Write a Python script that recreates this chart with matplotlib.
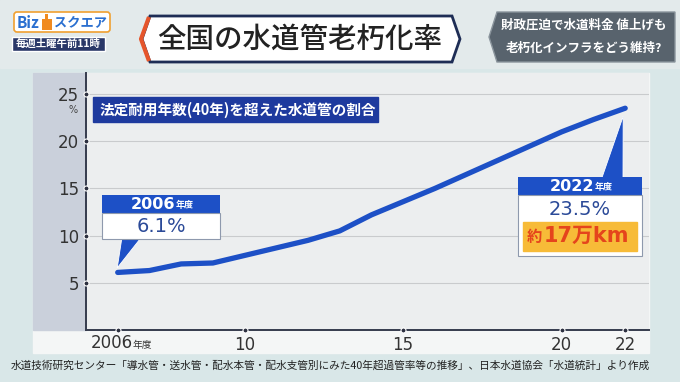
"""
全国の水道管老朽化率 (法定耐用年数40年を超えた水道管の割合)
"""

import matplotlib
matplotlib.use('Agg')
import matplotlib.pyplot as plt
from matplotlib.patches import Rectangle, Polygon, FancyBboxPatch

plt.rcParams['font.family'] = ['Noto Sans CJK JP', 'DejaVu Sans']
NUM_FONT = ['DejaVu Sans', 'Noto Sans CJK JP']

# データ
years = [2006, 2007, 2008, 2009, 2010, 2011, 2012, 2013, 2014,
         2015, 2016, 2017, 2018, 2019, 2020, 2021, 2022]
rate = [6.1, 6.3, 7.0, 7.1, 7.9, 8.7, 9.5, 10.5, 12.2,
        13.6, 15.0, 16.5, 18.0, 19.5, 21.0, 22.3, 23.5]

xticks = [2006, 2010, 2015, 2020, 2022]
xtick_labels = ['2006', '10', '15', '20', '22']
yticks = [5, 10, 15, 20, 25]

title = '全国の水道管老朽化率'
subtitle = '法定耐用年数(40年)を超えた水道管の割合'
side_lines = ['財政圧迫で水道料金 値上げも', '老朽化インフラをどう維持?']
source = ('水道技術研究センター「導水管・送水管・配水本管・配水支管別にみた'
          '40年超過管率等の推移」、日本水道協会「水道統計」より作成')

W, H = 680, 382
BLUE = '#1d50c6'
NAVY = '#1e3a9e'
TXT_BLUE = '#2b4a98'

fig = plt.figure(figsize=(6.8, 3.82), dpi=100)
fig.patch.set_facecolor('#d9e7e8')

# 背景レイヤー (ピクセル座標)
back = fig.add_axes([0, 0, 1, 1])
back.set_xlim(0, W)
back.set_ylim(H, 0)
back.axis('off')
back.add_patch(Rectangle((0, 0), W, 68, color='#e3eaeb'))
back.add_patch(Rectangle((33, 73.3), 616.3, 280, color='#f4f6f6'))
back.add_patch(Rectangle((33, 73.3), 53, 256.7, color='#cad0db'))

# メインのグラフ
ax = fig.add_axes([86 / W, 1 - 330 / H, (649.3 - 86) / W, (330 - 73.3) / H])
ax.set_facecolor('#eceeef')
ax.set_xlim(2005.0, 2022.76)
ax.set_ylim(0, 27.2)
for s in ['top', 'right']:
    ax.spines[s].set_visible(False)
for s in ['left', 'bottom']:
    ax.spines[s].set_color('#353b4d')
    ax.spines[s].set_linewidth(1.4)

ax.set_yticks(yticks)
ax.set_yticklabels([str(v) for v in yticks], fontsize=12, color='#333333',
                   family=NUM_FONT)
ax.set_xticks(xticks)
ax.set_xticklabels([''] + xtick_labels[1:], fontsize=12, color='#333333',
                   family=NUM_FONT)
ax.tick_params(axis='y', length=0, pad=5)
ax.tick_params(axis='x', length=0, pad=4)
ax.grid(True, axis='y', color='#c9cbcd', linewidth=0.8)
ax.set_axisbelow(True)

x0 = ax.get_xlim()[0]
ax.plot(xticks, [0] * len(xticks), 'o', ms=3.6, color='#2c3040', mec='white',
        mew=0.8, clip_on=False, zorder=5)
ax.plot([x0] * len(yticks), yticks, 'o', ms=3.6, color='#2c3040', mec='white',
        mew=0.8, clip_on=False, zorder=5)

ax.plot(years, rate, color=BLUE, linewidth=3.8, solid_capstyle='round',
        solid_joinstyle='round', zorder=4)

# 前面レイヤー (ピクセル座標)
front = fig.add_axes([0, 0, 1, 1])
front.set_xlim(0, W)
front.set_ylim(H, 0)
front.axis('off')
front.patch.set_alpha(0)


def to_px(x, y):
    dx, dy = ax.transData.transform((x, y))
    return dx, H - dy


# x軸の "2006年度"
tx, _ = to_px(xticks[0], 0)
front.text(tx + 15, 343, xtick_labels[0], fontsize=12, color='#333333',
           ha='right', va='center', family=NUM_FONT)
front.text(tx + 15, 345, '年度', fontsize=7, color='#333333', ha='left', va='center')
front.text(73, 110, '%', fontsize=7, color='#444444', ha='center', va='center',
           family=NUM_FONT)

# グラフ内タイトル
front.add_patch(Rectangle((93, 97), 285, 25, color=NAVY))
front.text(100, 109.5, subtitle, fontsize=10.5, color='white', fontweight='bold',
           ha='left', va='center')

# 2006年度 吹き出し
px, py = to_px(years[0], rate[0])
front.add_patch(Polygon([(121.7, 239), (140, 239), (px - 0.5, py - 4.5)],
                        closed=True, fc=BLUE, ec='white', lw=0.6))
front.add_patch(Rectangle((101.7, 195), 118.3, 18.3, fc=BLUE, ec='none'))
front.add_patch(Rectangle((101.7, 213.3), 118.3, 26, fc='white', ec='#8e99ad', lw=0.8))
front.text(175, 204.5, str(years[0]), fontsize=11.5, color='white',
           fontweight='bold', ha='right', va='center', family=NUM_FONT)
front.text(176, 205.5, '年度', fontsize=6.5, color='white', fontweight='bold',
           ha='left', va='center')
front.text(161, 227, f'{rate[0]}%', fontsize=14, color=TXT_BLUE,
           ha='center', va='center', family=NUM_FONT)

# 2022年度 吹き出し
px, py = to_px(years[-1], rate[-1])
front.add_patch(Polygon([(602, 177.5), (623, 177.5), (px - 2, py + 8)],
                        closed=True, fc=BLUE, ec='white', lw=0.6))
front.add_patch(Rectangle((518.3, 177.3), 123.4, 17.7, fc=BLUE, ec='none'))
front.add_patch(Rectangle((518.3, 195), 123.4, 61, fc='white', ec='#8e99ad', lw=0.8))
front.text(594, 186.5, str(years[-1]), fontsize=11.5, color='white',
           fontweight='bold', ha='right', va='center', family=NUM_FONT)
front.text(595, 187.5, '年度', fontsize=6.5, color='white', fontweight='bold',
           ha='left', va='center')
front.text(580, 209.5, f'{rate[-1]}%', fontsize=14, color=TXT_BLUE,
           ha='center', va='center', family=NUM_FONT)
front.add_patch(Rectangle((523, 222), 114, 29, color='#f7bb38'))
front.text(542, 237, '約', fontsize=11, color='#e5441c', fontweight='bold',
           ha='right', va='center')
front.text(544, 236, '17万km', fontsize=15, color='#e5441c', fontweight='bold',
           ha='left', va='center', family=NUM_FONT)

# 出典
front.text(330, 365, source, fontsize=7.7, color='#222222', ha='center', va='center')

# ヘッダー: ロゴ
front.add_patch(FancyBboxPatch((14, 12), 96, 20, boxstyle='round,pad=0,rounding_size=3',
                               fc='white', ec='#f0a030', lw=1.2))
front.text(17, 22.5, 'Biz', fontsize=11, color='#2a6fd0', fontweight='bold',
           ha='left', va='center')
front.add_patch(Polygon([(42, 30), (42, 19), (45, 19), (45, 14), (48, 14), (48, 19),
                         (52, 19), (52, 30)], closed=True, fc='#f08a20', ec='none'))
front.text(54, 22.5, 'スクエア', fontsize=9.5, color='#2a6fd0', fontweight='bold',
           ha='left', va='center')
front.add_patch(Rectangle((12, 37), 93, 14, fc='#2a3868', ec='white', lw=1))
front.text(58.5, 44, '毎週土曜午前11時', fontsize=7.5, color='white',
           fontweight='bold', ha='center', va='center')

# ヘッダー: タイトル
front.add_patch(Polygon([(150, 16), (452, 16), (460, 39), (452, 62), (150, 62), (142, 39)],
                        closed=True, fc='white', ec='#1e2d55', lw=2))
front.plot([149, 141, 149], [17, 39, 61], color='#e5552b', lw=3, solid_capstyle='butt')
front.text(300, 39.5, title, fontsize=20.5, color='#222222', fontweight='medium',
           ha='center', va='center')

# ヘッダー: 右のボックス
front.add_patch(Polygon([(497, 12), (675, 12), (675, 62), (497, 62), (489, 37)],
                        closed=True, fc='#58636d', ec='#8a949c', lw=1))
front.text(584, 25.5, side_lines[0], fontsize=9, color='white', fontweight='bold',
           ha='center', va='center')
front.text(584, 48, side_lines[1], fontsize=9, color='white', fontweight='bold',
           ha='center', va='center')

fig.savefig('out.png', dpi=100, facecolor=fig.get_facecolor())
